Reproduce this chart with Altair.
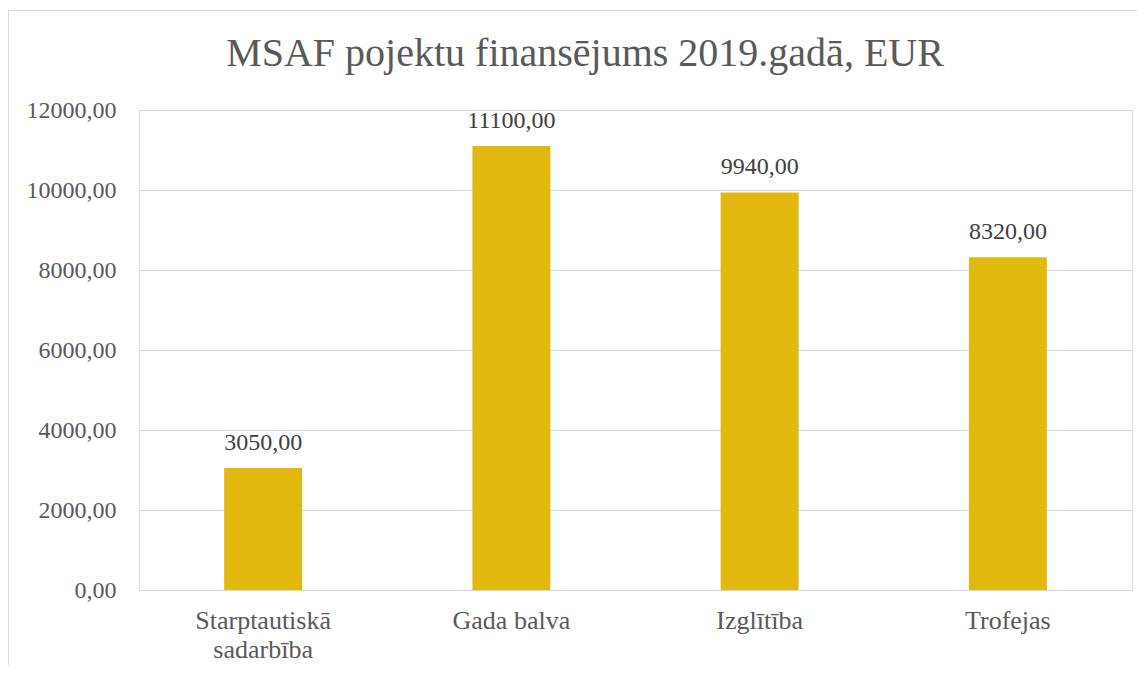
import altair as alt
import pandas as pd

categories = ["Starptautiskā sadarbība", "Gada balva", "Izglītība", "Trofejas"]
values = [3050.00, 11100.00, 9940.00, 8320.00]
y_ticks = [0, 2000, 4000, 6000, 8000, 10000, 12000]
title_text = "MSAF pojektu finansējums 2019.gadā, EUR"

df = pd.DataFrame({"kategorija": categories, "summa": values})

FONT = "Liberation Serif"
GRID = "#d9d9d9"
BAR = "#E2B80E"

x_enc = alt.X(
    "kategorija:N",
    sort=categories,
    title=None,
    scale=alt.Scale(paddingInner=0.686, paddingOuter=0.343),
    axis=alt.Axis(
        labelAngle=0,
        ticks=False,
        domain=False,
        labelPadding=17,
        labelFontSize=26,
        labelFont=FONT,
        labelColor="#595959",
        labelLineHeight=29,
        labelExpr="length(datum.label) > 12 ? split(datum.label, ' ') : datum.label",
    ),
)
y_enc = alt.Y(
    "summa:Q",
    title=None,
    scale=alt.Scale(domain=[0, 12000], nice=False),
    axis=alt.Axis(
        values=y_ticks,
        labelExpr="replace(format(datum.value, '.2f'), '.', ',')",
        grid=True,
        gridColor=GRID,
        gridWidth=1,
        domain=False,
        ticks=False,
        labelPadding=23,
        labelFontSize=24,
        labelFont=FONT,
        labelColor="#595959",
    ),
)

base = alt.Chart(df)

bars = base.mark_bar(color=BAR).encode(x=x_enc, y=y_enc)

labels = base.transform_calculate(
    lbl="replace(format(datum.summa, '.2f'), '.', ',')"
).mark_text(
    baseline="alphabetic", dy=-18, fontSize=24, font=FONT, color="#404040"
).encode(x=x_enc, y=y_enc, text="lbl:N")

frame_data = alt.Data(values=[{}])
top_border = alt.Chart(frame_data).mark_rule(color=GRID, strokeWidth=1).encode(
    x=alt.value(-130.5), x2=alt.value(1010), y=alt.value(-99.5)
)
left_border = alt.Chart(frame_data).mark_rule(color=GRID, strokeWidth=1).encode(
    x=alt.value(-130.5), y=alt.value(-99.5), y2=alt.value(600)
)
title_mark = alt.Chart(frame_data).mark_text(
    text=title_text,
    fontSize=40,
    font=FONT,
    color="#595959",
    align="center",
    baseline="alphabetic",
).encode(x=alt.value(446), y=alt.value(-44))

chart = alt.layer(top_border, left_border, title_mark, bars, labels).properties(
    width=993,
    height=480,
    autosize=alt.AutoSizeParams(type="none"),
    padding={"left": 131, "top": 102, "right": 5, "bottom": 75},
).configure_view(strokeWidth=0).configure(background="white")

chart.save("out.html", embed_options={"renderer": "svg", "actions": False})
